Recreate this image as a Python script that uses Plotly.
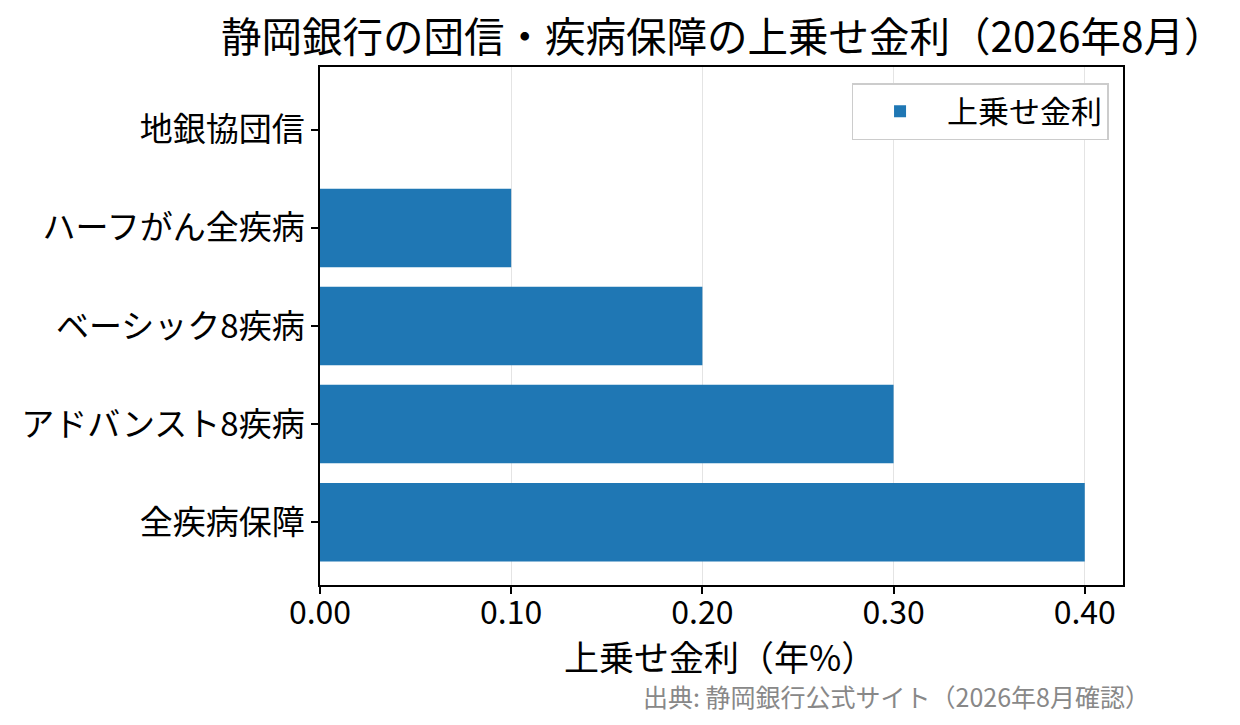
import plotly.graph_objects as go

categories = ["地銀協団信", "ハーフがん全疾病", "ベーシック8疾病", "アドバンスト8疾病", "全疾病保障"]
values = [0.0, 0.10, 0.20, 0.30, 0.40]
x_ticks = [0.0, 0.1, 0.2, 0.3, 0.4]
x_tick_labels = ["0.00", "0.10", "0.20", "0.30", "0.40"]

title_text = "静岡銀行の団信・疾病保障の上乗せ金利（2026年8月）"
x_title = "上乗せ金利（年%）"
series_name = "上乗せ金利"
source_text = "出典: 静岡銀行公式サイト（2026年8月確認）"

FONT = "Noto Sans CJK JP"

fig = go.Figure()
fig.add_trace(go.Bar(
    y=categories, x=values, orientation="h", name=series_name,
    marker=dict(color="#1f77b4", line=dict(width=0)),
    showlegend=True,
))

fig.update_layout(
    width=1240, height=725,
    margin=dict(l=312, r=125, t=59, b=148, autoexpand=False),
    paper_bgcolor="white", plot_bgcolor="white",
    font=dict(family=FONT, color="black"),
    bargap=0.2,
    legend=dict(x=0.982, y=0.969, xanchor="right", yanchor="top",
                bgcolor="white", bordercolor="#cccccc", borderwidth=1.5,
                font=dict(size=31, family=FONT), itemwidth=84),
    xaxis=dict(range=[0, 0.42], tickvals=x_ticks, ticktext=x_tick_labels,
               showgrid=True, gridcolor="rgba(210,210,210,0.6)", gridwidth=1.3,
               layer="above traces",
               showline=True, linecolor="black", linewidth=1.5, mirror=True,
               ticks="outside", ticklen=7, tickcolor="black", tickwidth=1.5,
               ticklabelstandoff=-8,
               tickfont=dict(size=32, family=FONT),
               zeroline=False),
    yaxis=dict(categoryorder="array", categoryarray=categories,
               range=[4.64, -0.64],
               showgrid=False, showline=True, linecolor="black", linewidth=1.5, mirror=True,
               ticks="outside", ticklen=7, tickcolor="black", tickwidth=1.5,
               tickfont=dict(size=33, family=FONT), zeroline=False),
)

# title
fig.add_annotation(text=title_text, xref="paper", yref="paper", x=0.501, y=1.063,
                   xanchor="center", yanchor="middle", showarrow=False,
                   font=dict(size=40.5, color="black", family=FONT))
# x-axis title
fig.add_annotation(text=x_title, xref="paper", yref="paper", x=0.498, y=-0.136,
                   xanchor="center", yanchor="middle", showarrow=False,
                   font=dict(size=35, color="black", family=FONT))
# source
fig.add_annotation(text=source_text, xref="paper", yref="paper", x=1.036, y=-0.214,
                   xanchor="right", yanchor="middle", showarrow=False,
                   font=dict(size=25, color="#888888", family=FONT))

fig.write_html("out.html")
